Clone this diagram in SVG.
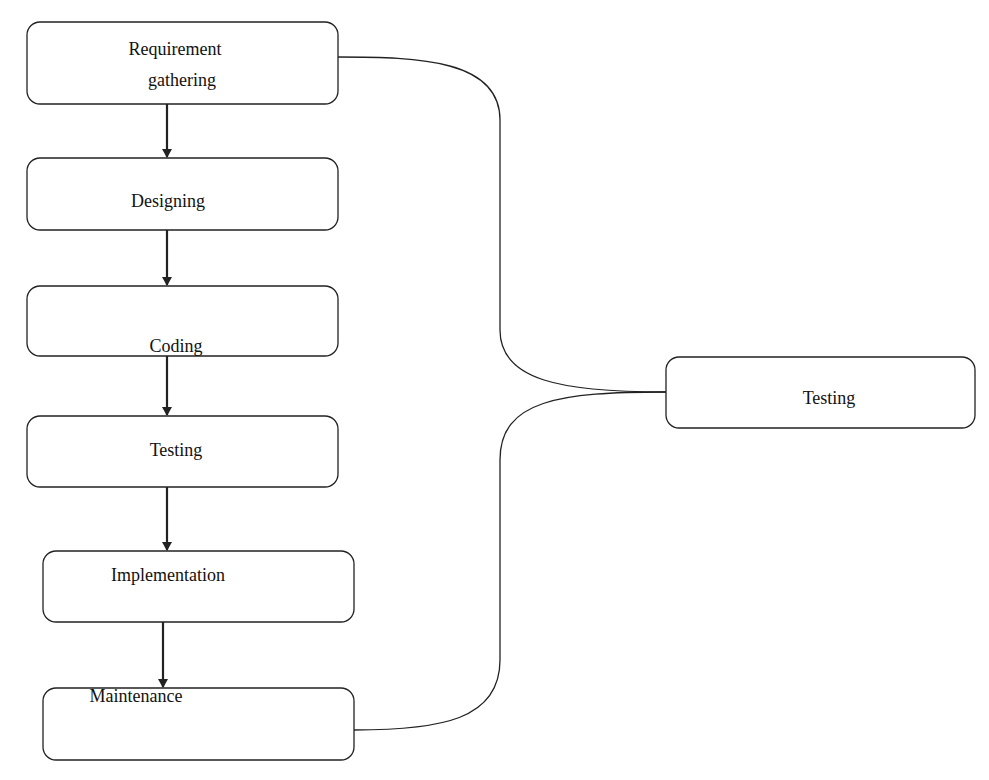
<svg xmlns="http://www.w3.org/2000/svg" width="989" height="780" viewBox="0 0 989 780">
<style>
.b{fill:#fff;stroke:#222;stroke-width:1.3}
.t{font-family:"Liberation Serif",serif;font-size:18px;fill:#111;text-anchor:middle}
.c{fill:none;stroke:#222;stroke-width:1.3}
.a{stroke:#222;stroke-width:2.2;marker-end:url(#ar)}
</style>
<defs><marker id="ar" markerWidth="10" markerHeight="10" refX="8" refY="5" orient="auto" markerUnits="userSpaceOnUse"><path d="M0,0 L9,5 L0,10 Z" fill="#222"/></marker></defs>
<rect width="989" height="780" fill="#fff"/>
<g id="n1"><rect class="b" x="27" y="22" width="311" height="82" rx="13"/><text class="t" x="175" y="55">Requirement</text><text class="t" x="182" y="86">gathering</text></g>
<g id="n2"><rect class="b" x="27" y="158" width="311" height="72" rx="13"/><text class="t" x="168" y="207">Designing</text></g>
<g id="n3"><rect class="b" x="27" y="286" width="311" height="70" rx="13"/><text class="t" x="176" y="352">Coding</text></g>
<g id="n4"><rect class="b" x="27" y="416" width="311" height="71" rx="13"/><text class="t" x="176" y="456">Testing</text></g>
<g id="n5"><rect class="b" x="43" y="551" width="311" height="71" rx="13"/><text class="t" x="168" y="581">Implementation</text></g>
<g id="n6"><rect class="b" x="43" y="688" width="311" height="72" rx="13"/><text class="t" x="136" y="702">Maintenance</text></g>
<g id="n7"><rect class="b" x="666" y="357" width="309" height="71" rx="13"/><text class="t" x="829" y="404">Testing</text></g>
<g id="connectors">
<line class="a" x1="167" y1="104" x2="167" y2="157"/>
<line class="a" x1="167" y1="230" x2="167" y2="285"/>
<line class="a" x1="167" y1="356" x2="167" y2="415"/>
<line class="a" x1="167" y1="487" x2="167" y2="550"/>
<line class="a" x1="163" y1="622" x2="163" y2="687"/>
<path class="c" d="M338,57 C420,57 500,60 500,120 L500,330 C500,380 560,392 666,392"/>
<path class="c" d="M354,730 C440,730 500,720 500,660 L500,460 C500,400 560,392 666,392"/>
</g>
</svg>
